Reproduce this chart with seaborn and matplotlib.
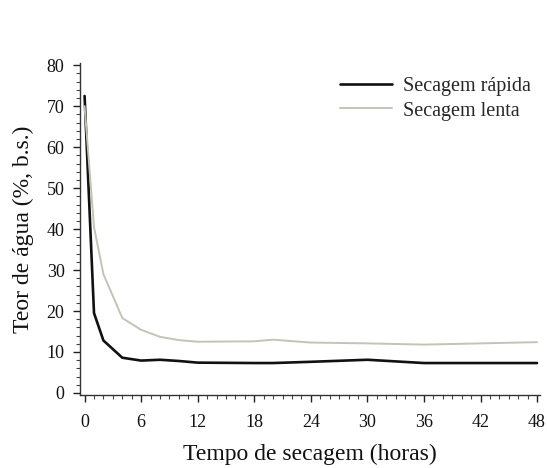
import numpy as np
import pandas as pd
import matplotlib
matplotlib.use("Agg")
import matplotlib.pyplot as plt
from matplotlib.ticker import MultipleLocator
import seaborn as sns

# Drying time (hours) and water content (% dry basis)
hours = [0, 1, 2, 4, 6, 8, 10, 12, 18, 20, 24, 30, 36, 42, 48]
rapida = [72.5, 19.5, 12.8, 8.6, 7.9, 8.1, 7.8, 7.4, 7.3, 7.3, 7.6, 8.1, 7.3, 7.3, 7.3]
lenta = [70.0, 40.5, 29.0, 18.3, 15.4, 13.7, 12.9, 12.5, 12.6, 13.0, 12.3, 12.1, 11.8, 12.1, 12.4]
series_names = ["Secagem rápida", "Secagem lenta"]
x_ticks = [0, 6, 12, 18, 24, 30, 36, 42, 48]
y_ticks = [0, 10, 20, 30, 40, 50, 60, 70, 80]

df = pd.DataFrame({
    "horas": hours * 2,
    "teor": rapida + lenta,
    "serie": [series_names[0]] * len(hours) + [series_names[1]] * len(hours),
})

sns.set_theme(style="ticks")
plt.rcParams["font.family"] = ["Liberation Serif", "DejaVu Serif"]

fig = plt.figure(figsize=(5.47, 4.68), dpi=100)
ax = fig.add_axes([0.146, 0.156, 0.841, 0.709])

sns.lineplot(data=df, x="horas", y="teor", hue="serie", hue_order=series_names,
             palette={series_names[0]: "#111111", series_names[1]: "#c2c4b4"},
             ax=ax, legend=True)
for line, lw in zip(ax.lines, [1.9, 1.4]):
    line.set_linewidth(lw)

ax.set_xlim(-0.5, 48.3)
ax.set_ylim(-0.5, 80.5)
ax.set_xticks(x_ticks)
ax.set_yticks(y_ticks)
ax.xaxis.set_minor_locator(MultipleLocator(1))
ax.yaxis.set_minor_locator(MultipleLocator(2))
ax.tick_params(axis="both", which="major", length=5, width=1, labelsize=13,
               colors="#222222", labelcolor="#111111")
ax.tick_params(axis="x", which="major", pad=9)
ax.tick_params(axis="y", which="major", pad=6)
ax.tick_params(axis="both", which="minor", length=3, width=0.8, colors="#444444")
for s in ["top", "right"]:
    ax.spines[s].set_visible(False)
for s in ["left", "bottom"]:
    ax.spines[s].set_linewidth(1.0)
    ax.spines[s].set_color("#333333")

ax.set_xlabel("Tempo de secagem (horas)", fontsize=17, color="#111111")
ax.set_ylabel("Teor de água (%, b.s.)", fontsize=17, color="#111111")
ax.xaxis.set_label_coords(0.5, -0.148)
ax.yaxis.set_label_coords(-0.10, 0.5)

leg = ax.legend(loc="upper right", bbox_to_anchor=(1.01, 1.0), frameon=False,
                fontsize=14.5, handlelength=2.6, handletextpad=0.5, labelspacing=0.25,
                borderaxespad=0.3)
for h, lw in zip(leg.get_lines(), [1.9, 1.4]):
    h.set_linewidth(lw)

fig.savefig("out.png", dpi=100)
